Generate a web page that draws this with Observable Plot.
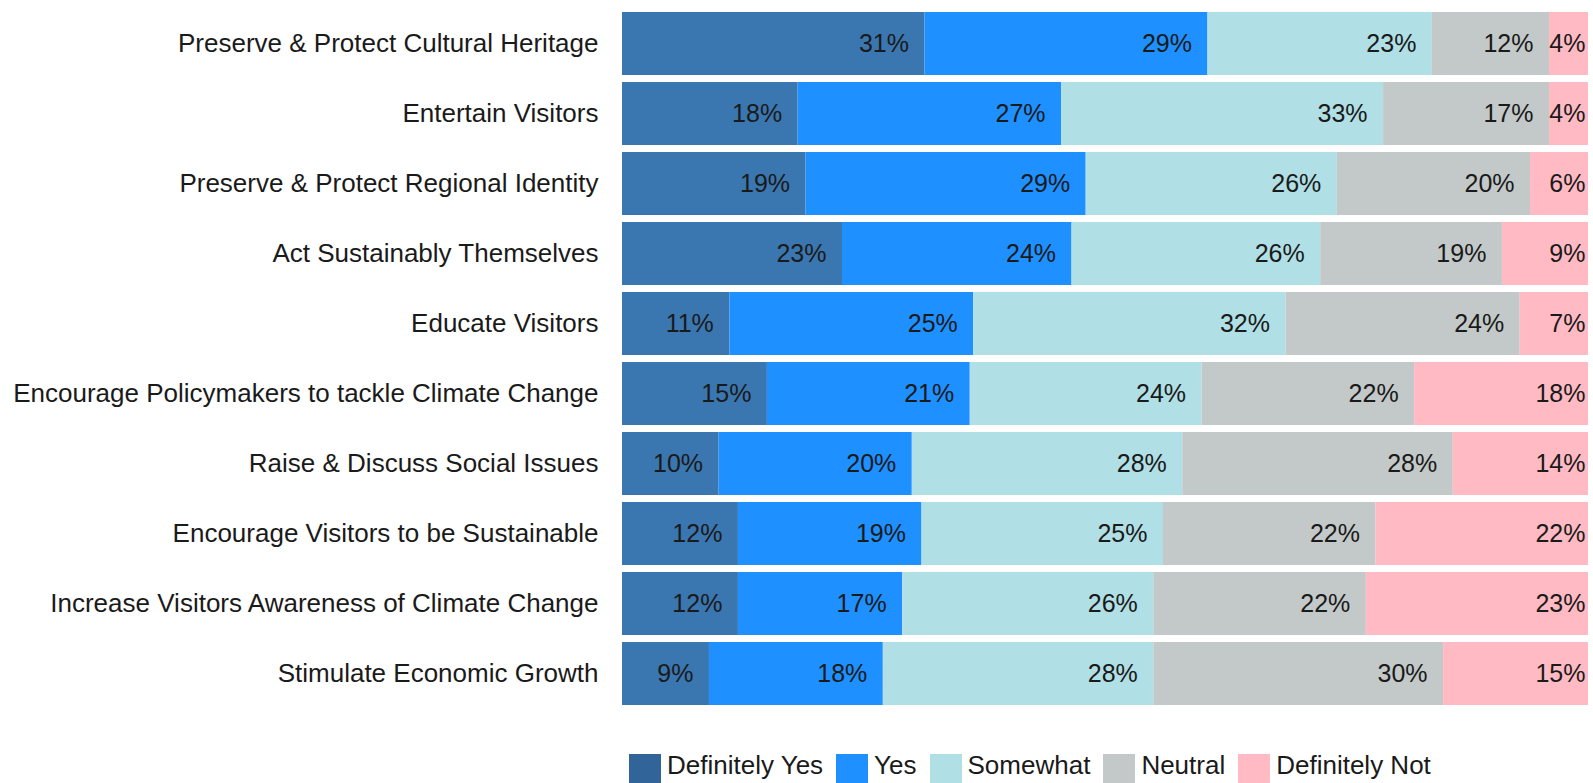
<!DOCTYPE html>
<html>
<head>
<meta charset="utf-8">
<script src="https://cdn.jsdelivr.net/npm/d3@7"></script>
<script src="https://cdn.jsdelivr.net/npm/@observablehq/plot@0.6"></script>
<style>
  html, body { margin: 0; padding: 0; background: #fff; overflow: hidden; }
  body { font-family: "Liberation Sans", Arial, sans-serif; }
  #legend { display: flex; align-items: flex-start; margin-top: 34px; margin-left: 629px; }
  #legend .item { display: flex; align-items: flex-start; margin-right: 13px; }
  #legend .sw { width: 32px; height: 32px; margin-right: 6px; }
  #legend .lab { font-size: 26px; line-height: 26px; color: #1a1a1a; margin-top: -2px; white-space: nowrap; }
</style>
</head>
<body>
<div id="chart"></div>
<div id="legend"></div>
<script>
const categories = [
  "Preserve & Protect Cultural Heritage",
  "Entertain Visitors",
  "Preserve & Protect Regional Identity",
  "Act Sustainably Themselves",
  "Educate Visitors",
  "Encourage Policymakers to tackle Climate Change",
  "Raise & Discuss Social Issues",
  "Encourage Visitors to be Sustainable",
  "Increase Visitors Awareness of Climate Change",
  "Stimulate Economic Growth"
];
const series = ["Definitely Yes", "Yes", "Somewhat", "Neutral", "Definitely Not"];
const definitelyYes = [31, 18, 19, 23, 11, 15, 10, 12, 12, 9];
const yes           = [29, 27, 29, 24, 25, 21, 20, 19, 17, 18];
const somewhat      = [23, 33, 26, 26, 32, 24, 28, 25, 26, 28];
const neutral       = [12, 17, 20, 19, 24, 22, 28, 22, 22, 30];
const definitelyNot = [4, 4, 6, 9, 7, 18, 14, 22, 23, 15];
const barColors    = ["#3A76B0", "#1E90FF", "#B0DFE5", "#C3C9C8", "#FFBAC4"];
const legendColors = ["#31659A", "#1E90FF", "#B0DFE5", "#C3C9C8", "#FFBAC4"];

const seriesValues = [definitelyYes, yes, somewhat, neutral, definitelyNot];
const data = [];
categories.forEach((c, i) => {
  series.forEach((s, j) => {
    data.push({category: c, series: s, value: seriesValues[j][i]});
  });
});

const lastSeries = series[series.length - 1];
const font = "'Liberation Sans', Arial, sans-serif";

const chart = Plot.plot({
  width: 1593,
  height: 720,
  marginLeft: 622,
  marginRight: 5,
  marginTop: 6,
  marginBottom: 9,
  style: {fontFamily: font, fontSize: "26px", color: "#1a1a1a", background: "#fff"},
  x: {axis: null, domain: [0, 1]},
  y: {domain: categories, paddingInner: 0.1, paddingOuter: 0.05, tickSize: 0, tickPadding: 24, label: null},
  color: {domain: series, range: barColors},
  marks: [
    Plot.barX(data, Plot.stackX({offset: "normalize", x: "value", y: "category", fill: "series"})),
    Plot.textX(data, Plot.stackX2({
      offset: "normalize", x: "value", y: "category", z: "series",
      text: d => d.series === lastSeries ? "" : d.value + "%",
      textAnchor: "end", dx: -16, fontSize: 25, fill: "#1a1a1a"
    })),
    Plot.textX(data, Plot.stackX2({
      offset: "normalize", x: "value", y: "category", z: "series",
      text: d => d.series === lastSeries ? d.value + "%" : "",
      textAnchor: "end", dx: -3, fontSize: 25, fill: "#1a1a1a"
    }))
  ]
});
document.getElementById("chart").appendChild(chart);

const legend = document.getElementById("legend");
series.forEach((s, j) => {
  const item = document.createElement("div");
  item.className = "item";
  const sw = document.createElement("div");
  sw.className = "sw";
  sw.style.background = legendColors[j];
  const lab = document.createElement("span");
  lab.className = "lab";
  lab.textContent = s;
  item.appendChild(sw);
  item.appendChild(lab);
  legend.appendChild(item);
});
</script>
</body>
</html>
